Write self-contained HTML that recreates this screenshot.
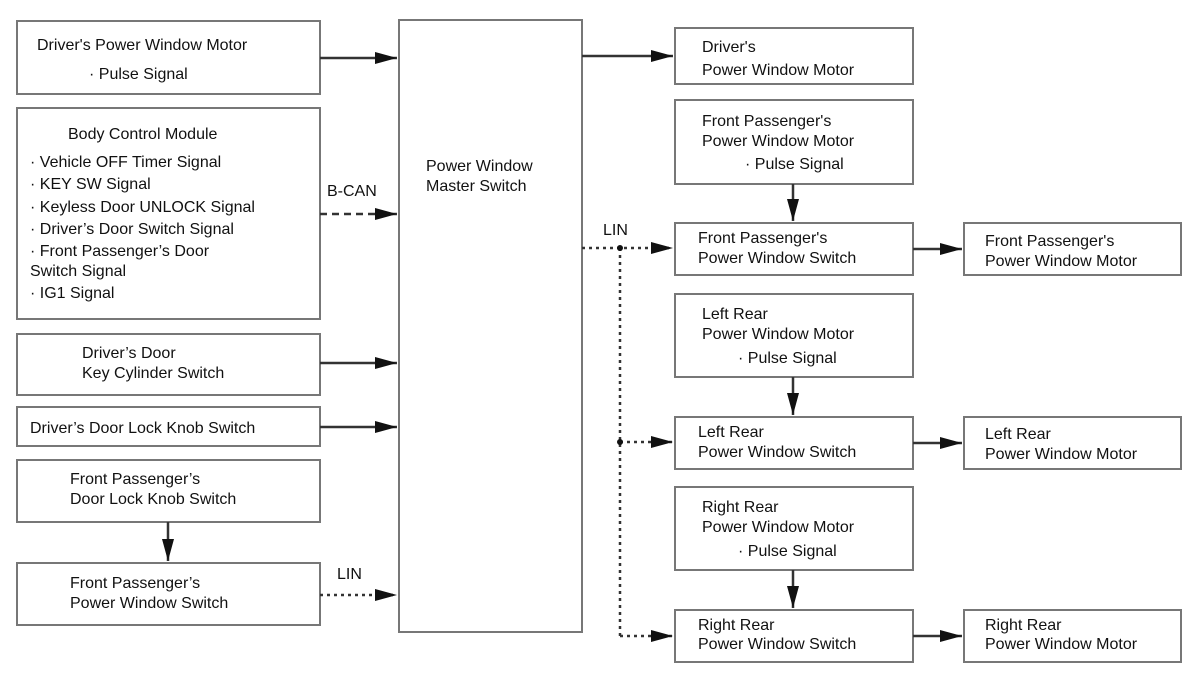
<!DOCTYPE html>
<html><head><meta charset="utf-8"><style>
html,body{margin:0;padding:0;background:#fff}
svg text{font-family:"Liberation Sans",Arial,sans-serif;font-size:16px;fill:#111}
</style></head><body>
<svg width="1200" height="689" viewBox="0 0 1200 689" xmlns="http://www.w3.org/2000/svg">
<defs>
<marker id="a" markerWidth="24" markerHeight="12" refX="22" refY="6" orient="auto" markerUnits="userSpaceOnUse">
<path d="M0,0 L22,6 L0,12 z" fill="#111"/></marker>
</defs>
<g fill="#fff" stroke="#777" stroke-width="2">
<rect x="17" y="21" width="303" height="73"/>
<rect x="17" y="108" width="303" height="211"/>
<rect x="17" y="334" width="303" height="61"/>
<rect x="17" y="407" width="303" height="39"/>
<rect x="17" y="460" width="303" height="62"/>
<rect x="17" y="563" width="303" height="62"/>
<rect x="399" y="20" width="183" height="612"/>
<rect x="675" y="28" width="238" height="56"/>
<rect x="675" y="100" width="238" height="84"/>
<rect x="675" y="223" width="238" height="52"/>
<rect x="964" y="223" width="217" height="52"/>
<rect x="675" y="294" width="238" height="83"/>
<rect x="675" y="417" width="238" height="52"/>
<rect x="964" y="417" width="217" height="52"/>
<rect x="675" y="487" width="238" height="83"/>
<rect x="675" y="610" width="238" height="52"/>
<rect x="964" y="610" width="217" height="52"/>
</g>
<g stroke="#333" stroke-width="2.5" fill="none">
<line x1="320" y1="58" x2="397" y2="58" marker-end="url(#a)"/>
<line x1="320" y1="214" x2="397" y2="214" stroke-dasharray="7,5" marker-end="url(#a)"/>
<line x1="320" y1="363" x2="397" y2="363" marker-end="url(#a)"/>
<line x1="320" y1="427" x2="397" y2="427" marker-end="url(#a)"/>
<line x1="320" y1="595" x2="397" y2="595" stroke-dasharray="3,4" marker-end="url(#a)"/>
<line x1="168" y1="522" x2="168" y2="561" marker-end="url(#a)"/>
<line x1="582" y1="56" x2="673" y2="56" marker-end="url(#a)"/>
<line x1="793" y1="184" x2="793" y2="221" marker-end="url(#a)"/>
<line x1="793" y1="377" x2="793" y2="415" marker-end="url(#a)"/>
<line x1="793" y1="570" x2="793" y2="608" marker-end="url(#a)"/>
<line x1="913" y1="249" x2="962" y2="249" marker-end="url(#a)"/>
<line x1="913" y1="443" x2="962" y2="443" marker-end="url(#a)"/>
<line x1="913" y1="636" x2="962" y2="636" marker-end="url(#a)"/>
<line x1="582" y1="248" x2="673" y2="248" stroke-dasharray="3,4" marker-end="url(#a)"/>
<line x1="620" y1="248" x2="620" y2="636" stroke-dasharray="3,4"/>
<line x1="620" y1="442" x2="673" y2="442" stroke-dasharray="3,4" marker-end="url(#a)"/>
<line x1="620" y1="636" x2="673" y2="636" stroke-dasharray="3,4" marker-end="url(#a)"/>
</g>
<circle cx="620" cy="248" r="3" fill="#111"/>
<circle cx="620" cy="442" r="3" fill="#111"/>
<text x="37" y="50">Driver's Power Window Motor</text>
<text x="89" y="79">· Pulse Signal</text>
<text x="68" y="139">Body Control Module</text>
<text x="30" y="167">· Vehicle OFF Timer Signal</text>
<text x="30" y="189">· KEY SW Signal</text>
<text x="30" y="212">· Keyless Door UNLOCK Signal</text>
<text x="30" y="234">· Driver’s Door Switch Signal</text>
<text x="30" y="256">· Front Passenger’s Door</text>
<text x="30" y="276">Switch Signal</text>
<text x="30" y="298">· IG1 Signal</text>
<text x="327" y="196">B-CAN</text>
<text x="82" y="358">Driver’s Door</text>
<text x="82" y="378">Key Cylinder Switch</text>
<text x="30" y="433">Driver’s Door Lock Knob Switch</text>
<text x="70" y="484">Front Passenger’s</text>
<text x="70" y="504">Door Lock Knob Switch</text>
<text x="70" y="588">Front Passenger’s</text>
<text x="70" y="608">Power Window Switch</text>
<text x="337" y="579">LIN</text>
<text x="426" y="171">Power Window</text>
<text x="426" y="191">Master Switch</text>
<text x="702" y="52">Driver's</text>
<text x="702" y="75">Power Window Motor</text>
<text x="702" y="126">Front Passenger's</text>
<text x="702" y="146">Power Window Motor</text>
<text x="745" y="169">· Pulse Signal</text>
<text x="603" y="235">LIN</text>
<text x="698" y="243">Front Passenger's</text>
<text x="698" y="263">Power Window Switch</text>
<text x="985" y="246">Front Passenger's</text>
<text x="985" y="266">Power Window Motor</text>
<text x="702" y="319">Left Rear</text>
<text x="702" y="339">Power Window Motor</text>
<text x="738" y="363">· Pulse Signal</text>
<text x="698" y="437">Left Rear</text>
<text x="698" y="457">Power Window Switch</text>
<text x="985" y="439">Left Rear</text>
<text x="985" y="459">Power Window Motor</text>
<text x="702" y="512">Right Rear</text>
<text x="702" y="532">Power Window Motor</text>
<text x="738" y="556">· Pulse Signal</text>
<text x="698" y="630">Right Rear</text>
<text x="698" y="649">Power Window Switch</text>
<text x="985" y="630">Right Rear</text>
<text x="985" y="649">Power Window Motor</text>
</svg>
</body></html>
